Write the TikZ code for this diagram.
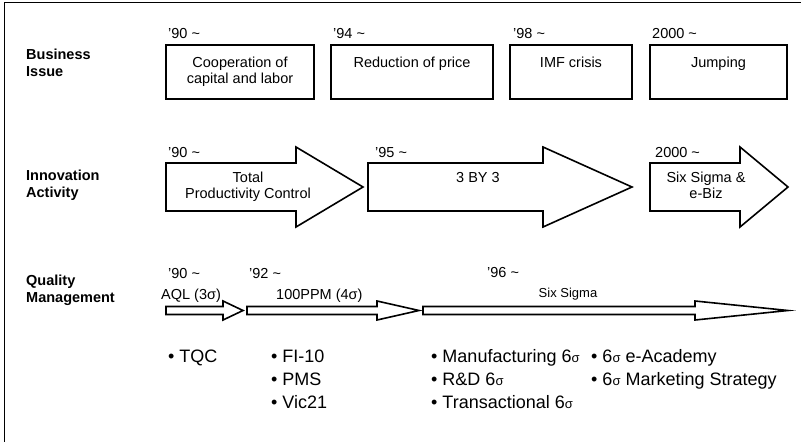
\documentclass[tikz,border=0pt]{standalone}
\usepackage{fontspec}
\setmainfont{Liberation Sans}
\newcommand\hollowarrow[6]{% x0, x1 (head start), x2 (tip), yc, body half, head half
  \draw[shp] (#1,#4-#5) -- (#2,#4-#5) -- (#2,#4-#6) -- (#3,#4) -- (#2,#4+#6) -- (#2,#4+#5) -- (#1,#4+#5) -- cycle;}
\newcommand\sg{{\fontsize{13}{13}\selectfont σ}}
\begin{document}
\begin{tikzpicture}[x=1pt,y=-1pt,
  lab/.style={font=\fontsize{14.5}{17}\selectfont\bfseries, anchor=base west, inner sep=0, align=left},
  txt/.style={font=\fontsize{14.5}{16}\selectfont, inner sep=0, align=center, anchor=base},
  yr/.style={font=\fontsize{14.5}{16}\selectfont, inner sep=0, anchor=base west},
  bul/.style={font=\fontsize{18}{23}\selectfont, inner sep=0, anchor=base west, align=left},
  box/.style={draw, line width=1.6pt},
  shp/.style={draw, line width=1.6pt, fill=white, line join=miter}]
\useasboundingbox (0,0) rectangle (801,442);
% outer frame (right and bottom edges fall outside the picture)
\draw[line width=1.6pt] (4.5,2.5) rectangle (830,470);

% row labels (anchored at the baseline of the last line)
\node[lab] (l1) at (26,76) {Business\\Issue};
\node[lab] (l2) at (26,197) {Innovation\\Activity};
\node[lab] (l3) at (26,302) {Quality\\Management};

% Business issue boxes
\draw[box] (166,45) rectangle (314,99);
\draw[box] (331,45) rectangle (493,99);
\draw[box] (510,45) rectangle (632,99);
\draw[box] (650,45) rectangle (787,99);
\node[yr] (y1a) at (168,38) {’90 \textasciitilde};
\node[yr] (y1b) at (333,38) {’94 \textasciitilde};
\node[yr] (y1c) at (513,38) {’98 \textasciitilde};
\node[yr] (y1d) at (652,38) {2000 \textasciitilde};
\node[txt] (b1) at (240,83) {Cooperation of\\capital and labor};
\node[txt] (b2) at (412,67) {Reduction of price};
\node[txt] (b3) at (571,67) {IMF crisis};
\node[txt] (b4) at (718.5,67) {Jumping};

% Innovation activity arrows
\hollowarrow{166}{296}{363}{187}{24}{40}
\hollowarrow{368}{543}{632}{187}{24}{40}
\hollowarrow{650}{740}{788}{187}{24}{40}
\node[yr] (y2a) at (168,157) {’90 \textasciitilde};
\node[yr] (y2b) at (375,157) {’95 \textasciitilde};
\node[yr] (y2c) at (655,157) {2000 \textasciitilde};
\node[txt] (a1) at (248,198) {Total\\Productivity Control};
\node[txt] (a2) at (478,182) {3 BY 3};
\node[txt] (a3) at (706,198) {Six Sigma \&\\e-Biz};

% Quality management arrows
\hollowarrow{166}{223}{243}{310.5}{4}{9.5}
\hollowarrow{247}{377}{419}{310.5}{4}{9.5}
\hollowarrow{423}{695}{788}{310.5}{4}{9.5}
\node[yr] (y3a) at (168,278) {’90 \textasciitilde};
\node[yr] (y3b) at (249,278) {’92 \textasciitilde};
\node[yr] (y3c) at (487,277) {’96 \textasciitilde};
\node[yr] (q1) at (161,299) {AQL (3σ)};
\node[yr] (q2) at (276,299) {100PPM (4σ)};
\node[txt, font=\fontsize{13}{15}\selectfont] (q3) at (568,297) {Six Sigma};

% bullet lists (anchored at the baseline of the last line)
\node[bul] (c1) at (168,362) {• TQC};
\node[bul] (c2) at (271,408) {• FI-10\\• PMS\\• Vic21};
\node[bul] (c3) at (431,408) {• Manufacturing 6\sg\\• R\&D 6\sg\\• Transactional 6\sg};
\node[bul] (c4) at (591,385) {• 6\sg{} e-Academy\\• 6\sg{} Marketing Strategy};
\end{tikzpicture}
\end{document}
